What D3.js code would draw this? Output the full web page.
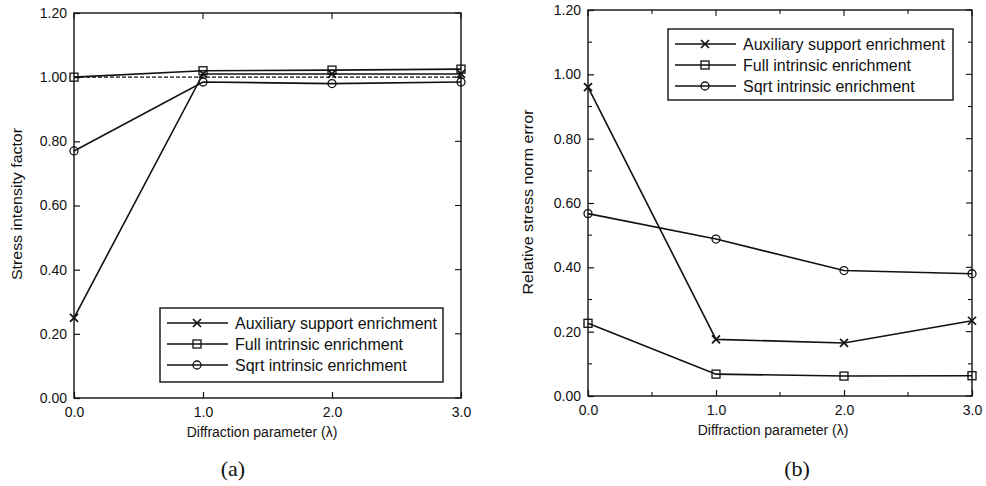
<!DOCTYPE html>
<html><head><meta charset="utf-8">
<script src="https://cdn.jsdelivr.net/npm/d3@7/dist/d3.min.js"></script>
<style>body{margin:0;background:#fff}svg{display:block}</style>
</head><body><svg id="c" width="986" height="486"></svg>
<script>
const lambdas = [0.0, 1.0, 2.0, 3.0];
const seriesNames = ["Auxiliary support enrichment", "Full intrinsic enrichment", "Sqrt intrinsic enrichment"];
const markers = ["cross", "square", "circle"];
// Panel (a): stress intensity factor
const sifAux  = [0.25, 1.01, 1.01, 1.01];
const sifFull = [1.00, 1.02, 1.022, 1.025];
const sifSqrt = [0.77, 0.985, 0.98, 0.985];
const sifExact = [1.00, 1.00, 1.00, 1.00];
// Panel (b): relative stress norm error
const errAux  = [0.96, 0.176, 0.165, 0.234];
const errFull = [0.226, 0.068, 0.062, 0.063];
const errSqrt = [0.567, 0.488, 0.39, 0.38];
const yTicks = [0.0, 0.2, 0.4, 0.6, 0.8, 1.0, 1.2];
const xTicks = [0.0, 1.0, 2.0, 3.0];
const xTitle = "Diffraction parameter (\u03bb)";

const svg = d3.select("#c");
const font = "'Liberation Sans', Arial, Helvetica, sans-serif";

function drawMarker(g, type, x, y) {
  if (type === "cross") {
    const s = 4;
    g.append("path").attr("d", `M${x-s},${y-s}L${x+s},${y+s}M${x-s},${y+s}L${x+s},${y-s}`)
      .attr("stroke", "#111").attr("stroke-width", 1.7).attr("fill", "none");
  } else if (type === "square") {
    g.append("rect").attr("x", x-4).attr("y", y-4).attr("width", 8).attr("height", 8)
      .attr("stroke", "#111").attr("stroke-width", 1.3).attr("fill", "none");
  } else {
    g.append("circle").attr("cx", x).attr("cy", y).attr("r", 4)
      .attr("stroke", "#111").attr("stroke-width", 1.3).attr("fill", "none");
  }
}

function panel(cfg) {
  const g = svg.append("g");
  const x = d3.scaleLinear().domain([0, 3]).range([cfg.x0, cfg.x1]);
  const y = d3.scaleLinear().domain([0, 1.2]).range([cfg.y0, cfg.y1]);
  const yMinor = cfg.minor ? d3.range(0, 1.2001, 0.1) : yTicks;
  const xMinor = cfg.minor ? d3.range(0, 3.001, 0.5) : xTicks;

  // frame
  g.append("rect").attr("x", cfg.x0).attr("y", cfg.y1).attr("width", cfg.x1 - cfg.x0)
    .attr("height", cfg.y0 - cfg.y1).attr("fill", "none").attr("stroke", "#111").attr("stroke-width", 1.4);

  // axes
  const ax = g.append("g").attr("transform", `translate(0,${cfg.y0})`)
    .call(d3.axisBottom(x).tickValues(xTicks).tickFormat(d3.format(".1f")).tickSize(-6).tickPadding(9));
  const ay = g.append("g").attr("transform", `translate(${cfg.x0},0)`)
    .call(d3.axisLeft(y).tickValues(yTicks).tickFormat(d3.format(".2f")).tickSize(-6).tickPadding(7));
  [ax, ay].forEach(a => {
    a.select(".domain").remove();
    a.selectAll("line").attr("stroke", "#111").attr("stroke-width", 1.2);
    a.selectAll("text").attr("font-family", font).attr("font-size", 14).attr("fill", "#111");
  });
  // minor / mirrored ticks
  const tl = cfg.minor ? 4 : 6;
  yMinor.forEach(v => {
    const isMajor = Math.abs(v * 5 - Math.round(v * 5)) < 1e-6;
    const len = isMajor ? 6 : tl;
    if (!isMajor) g.append("line").attr("x1", cfg.x0).attr("x2", cfg.x0 + len).attr("y1", y(v)).attr("y2", y(v)).attr("stroke", "#111").attr("stroke-width", 1.1);
    g.append("line").attr("x1", cfg.x1).attr("x2", cfg.x1 - len).attr("y1", y(v)).attr("y2", y(v)).attr("stroke", "#111").attr("stroke-width", 1.1);
  });
  xMinor.forEach(v => {
    const isMajor = Math.abs(v - Math.round(v)) < 1e-6;
    const len = isMajor ? 6 : tl;
    if (!isMajor) g.append("line").attr("x1", x(v)).attr("x2", x(v)).attr("y1", cfg.y0).attr("y2", cfg.y0 - len).attr("stroke", "#111").attr("stroke-width", 1.1);
    g.append("line").attr("x1", x(v)).attr("x2", x(v)).attr("y1", cfg.y1).attr("y2", cfg.y1 + len).attr("stroke", "#111").attr("stroke-width", 1.1);
  });

  // reference dashed line
  if (cfg.ref) {
    g.append("path").datum(cfg.ref)
      .attr("d", d3.line().x((d, i) => x(lambdas[i])).y(d => y(d)))
      .attr("fill", "none").attr("stroke", "#111").attr("stroke-width", 1.4).attr("stroke-dasharray", "4,2");
  }

  // series
  cfg.series.forEach((s, k) => {
    g.append("path").datum(s)
      .attr("d", d3.line().x((d, i) => x(lambdas[i])).y(d => y(d)))
      .attr("fill", "none").attr("stroke", "#111").attr("stroke-width", 1.6);
    s.forEach((d, i) => drawMarker(g, markers[k], x(lambdas[i]), y(d)));
  });

  // legend
  const L = cfg.legend;
  g.append("rect").attr("x", L.x).attr("y", L.y).attr("width", L.w).attr("height", L.h)
    .attr("fill", "#fff").attr("stroke", "#111").attr("stroke-width", 1.4);
  seriesNames.forEach((n, k) => {
    const yy = L.y + 15 + k * 21;
    g.append("line").attr("x1", L.x + 7).attr("x2", L.x + 68).attr("y1", yy).attr("y2", yy)
      .attr("stroke", "#111").attr("stroke-width", 1.6);
    drawMarker(g, markers[k], L.x + 37, yy);
    g.append("text").attr("x", L.x + 75).attr("y", yy + 5.5).text(n)
      .attr("font-family", font).attr("font-size", 16).attr("fill", "#111");
  });

  // titles
  g.append("text").attr("transform", `translate(${cfg.ytx},${cfg.ytc}) rotate(-90)`)
    .attr("text-anchor", "middle").text(cfg.yTitle)
    .attr("textLength", cfg.ytLen).attr("lengthAdjust", "spacingAndGlyphs")
    .attr("font-family", font).attr("font-size", 14).attr("fill", "#111");
  g.append("text").attr("x", cfg.xtc).attr("y", cfg.y0 + 39)
    .attr("text-anchor", "middle").text(xTitle)
    .attr("font-family", font).attr("font-size", 14).attr("fill", "#111");
  g.append("text").attr("x", cfg.lc).attr("y", 476)
    .attr("text-anchor", "middle").text(cfg.label)
    .attr("font-family", "'Liberation Serif', 'Times New Roman', serif").attr("font-size", 22).attr("fill", "#111");
}

panel({x0: 74, x1: 461, y0: 398, y1: 13, minor: false, ref: sifExact,
  series: [sifAux, sifFull, sifSqrt], yTitle: "Stress intensity factor", ytx: 22, ytc: 204, ytLen: 152,
  xtc: 262, lc: 233, label: "(a)",
  legend: {x: 160, y: 308, w: 283, h: 74}});
panel({x0: 588, x1: 972, y0: 396, y1: 10, minor: true, ref: null,
  series: [errAux, errFull, errSqrt], yTitle: "Relative stress norm error", ytx: 533, ytc: 202, ytLen: 185,
  xtc: 773, lc: 797, label: "(b)",
  legend: {x: 668, y: 29, w: 285, h: 71}});
</script></body></html>
